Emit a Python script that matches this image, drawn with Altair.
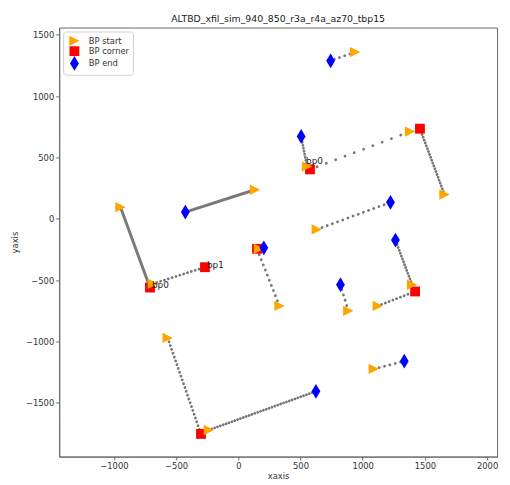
import altair as alt
import pandas as pd

TITLE = "ALTBD_xfil_sim_940_850_r3a_r4a_az70_tbp15"

# ---- marker values ----
start_x = [939, 1381, 552, 1657, 134, -947, 631, 166, -687, 331, 884, 1121, 1397, -568, -237, 1089]
start_y = [1360, 711, 427, 198, 237, 95, -87, -245, -530, -711, -751, -711, -538, -972, -1723, -1225]

corner_x = [1460, 576, -268, -710, 1421, -300, 150]
corner_y = [735, 403, -395, -561, -593, -1755, -245]

end_x = [742, 505, -426, 1223, 1263, 821, 205, 624, 1334]
end_y = [1289, 672, 55, 134, -174, -538, -237, -1407, -1162]

# ---- path segments (start -> corner/end) ----
seg_x1 = [939, 1657, 1381, 552, 134, -947, -687, 631, 331, 166, 1121, 1397, 884, -568, -237, 1089]
seg_y1 = [1360, 198, 711, 427, 237, 95, -530, -87, -711, -245, -711, -538, -751, -972, -1723, -1225]
seg_x2 = [742, 1460, 576, 505, -426, -710, -268, 1223, 150, 205, 1421, 1263, 821, -300, 624, 1334]
seg_y2 = [1289, 735, 403, 672, 55, -561, -395, 134, -245, -237, -593, -174, -538, -1755, -1407, -1162]

# ---- point labels ----
label_text = ["bp0", "bp1", "bp0"]
label_x = [-702, -260, 537]
label_y = [-561, -403, 443]

legend_names = ["BP start", "BP corner", "BP end"]
x_ticks = [-1000, -500, 0, 500, 1000, 1500, 2000]
y_ticks = [-1500, -1000, -500, 0, 500, 1000, 1500]

# dot spacing groups (style only)
groups = {
    "solid": [4, 5],
    "dense": [1, 3, 9, 11, 14],
    "medium": [6, 10, 13],
    "sparse": [0, 7, 8, 12, 15],
    "vsparse": [2],
}
dash = {"dense": [0.1, 3], "medium": [0.1, 4], "sparse": [0.1, 5.5], "vsparse": [0.1, 10]}

XD = [-1440, 2080]
YD = [-1940, 1560]

xs = alt.Scale(domain=XD, nice=False, zero=False)
ys = alt.Scale(domain=YD, nice=False, zero=False)

seg_df = pd.DataFrame({"x1": seg_x1, "y1": seg_y1, "x2": seg_x2, "y2": seg_y2})

layers = []
for name, idx in groups.items():
    d = seg_df.iloc[idx]
    if name == "solid":
        mk = alt.Chart(d).mark_rule(color="#7a7a7a", strokeWidth=3, strokeCap="round")
    else:
        mk = alt.Chart(d).mark_rule(color="#767676", strokeWidth=2.8, strokeCap="round",
                                    strokeDash=dash[name])
    layers.append(mk.encode(
        x=alt.X("x1:Q", scale=xs, title="xaxis",
                axis=alt.Axis(values=x_ticks, format="d")),
        y=alt.Y("y1:Q", scale=ys, title="yaxis",
                axis=alt.Axis(values=y_ticks, format="d")),
        x2="x2:Q", y2="y2:Q"))

rows = []
for x, y in zip(corner_x, corner_y):
    rows.append({"x": x, "y": y, "type": "BP corner"})
for x, y in zip(start_x, start_y):
    rows.append({"x": x, "y": y, "type": "BP start"})
for x, y in zip(end_x, end_y):
    rows.append({"x": x, "y": y, "type": "BP end"})
pts = pd.DataFrame(rows)
pts["order"] = range(len(pts))

TRI = "M1,0L-1,1L-1,-1Z"
DIA = "M0,-1L0.6,0L0,1L-0.6,0Z"

leg = alt.Legend(title=None, orient="none", legendX=4, legendY=4)

points = alt.Chart(pts).mark_point(filled=True, opacity=1, strokeWidth=0).encode(
    x=alt.X("x:Q", scale=xs),
    y=alt.Y("y:Q", scale=ys),
    order="order:Q",
    color=alt.Color("type:N", scale=alt.Scale(domain=legend_names,
                                              range=["#ffa500", "#ff0000", "#0000ff"]),
                    legend=leg),
    shape=alt.Shape("type:N", scale=alt.Scale(domain=legend_names,
                                              range=[TRI, "square", DIA]),
                    legend=leg),
    size=alt.Size("type:N", scale=alt.Scale(type="ordinal", domain=legend_names,
                                            range=[110, 100, 225]),
                  legend=leg),
)

labels_df = pd.DataFrame({"x": label_x, "y": label_y, "t": label_text})
labels = alt.Chart(labels_df).mark_text(align="left", baseline="alphabetic", fontSize=9,
                                        font="DejaVu Sans", color="#222", dx=1).encode(
    x=alt.X("x:Q", scale=xs), y=alt.Y("y:Q", scale=ys), text="t:N")

chart = alt.layer(*layers, points, labels).properties(
    width=445, height=436,
    title=alt.TitleParams(TITLE, fontSize=9.5, font="DejaVu Sans", fontWeight="normal",
                          color="#222", anchor="middle", offset=4),
    autosize=alt.AutoSizeParams(type="none"),
    padding={"left": 52, "top": 16, "right": 5, "bottom": 25},
).configure_view(stroke="#666", strokeWidth=1).configure_axis(
    grid=False, labelFont="DejaVu Sans", labelFontSize=8.5, labelColor="#333",
    titleFont="DejaVu Sans", titleFontSize=8.5, titleFontWeight="normal", titleColor="#333",
    domainColor="#666", tickColor="#666", tickSize=3.5, labelPadding=2,
).configure_axisY(titlePadding=6).configure_axisX(titlePadding=1).configure_legend(
    padding=4, strokeColor="#d0d0d0", fillColor="white", cornerRadius=3,
    labelFont="DejaVu Sans", labelFontSize=8.5, labelColor="#333", symbolSize=110,
    rowPadding=0, labelOffset=7, symbolStrokeWidth=0,
)

chart.save("out.html", embed_options={"renderer": "svg", "actions": False})
